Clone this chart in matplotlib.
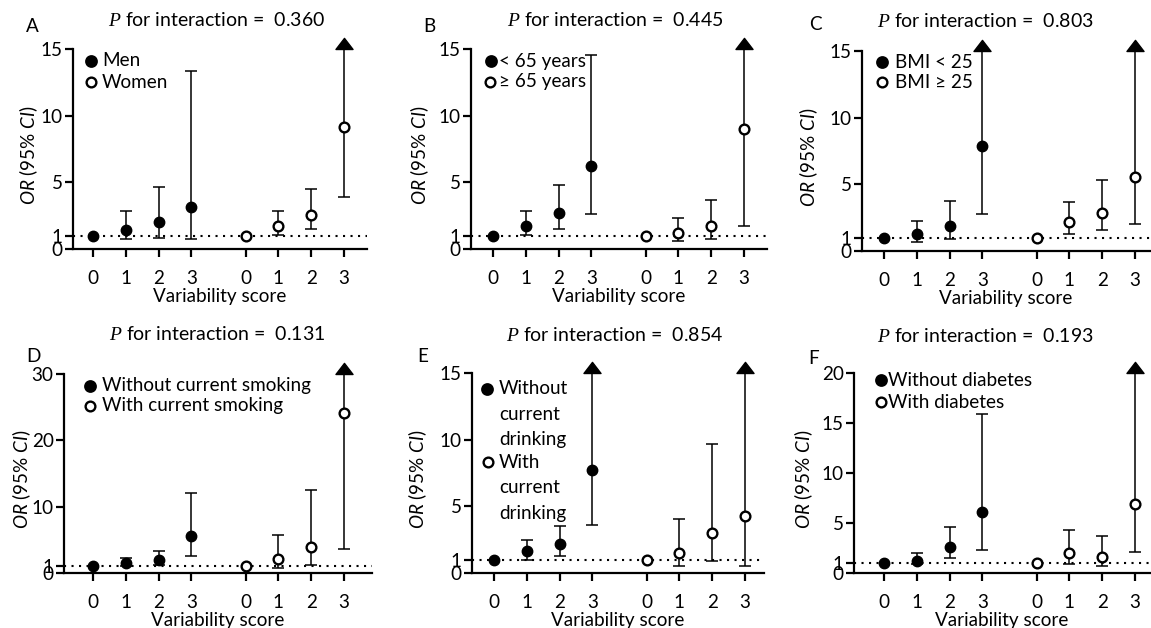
import numpy as np
import matplotlib
matplotlib.use('Agg')
import matplotlib.pyplot as plt
from matplotlib.lines import Line2D
from matplotlib.path import Path

plt.rcParams['font.family'] = ['Lato', 'DejaVu Sans']
plt.rcParams['mathtext.fontset'] = 'custom'
plt.rcParams['mathtext.rm'] = 'Lato'
plt.rcParams['mathtext.it'] = 'Lato:italic'
plt.rcParams['mathtext.sf'] = 'Liberation Serif:italic'

nan, inf = np.nan, np.inf  # inf = upper CI runs off the axis (arrow)

scores = [0, 1, 2, 3]
score_labels = ['0', '1', '2', '3', '0', '1', '2', '3']

# A: sex
men_or = [1.0, 1.45, 2.05, 3.13]
men_lo = [nan, 0.75, 0.85, 0.75]
men_hi = [nan, 2.85, 4.68, 13.35]
women_or = [1.0, 1.73, 2.58, 9.13]
women_lo = [nan, 1.05, 1.48, 3.9]
women_hi = [nan, 2.85, 4.53, inf]

# B: age
young_or = [1.0, 1.73, 2.7, 6.2]
young_lo = [nan, 1.05, 1.53, 2.63]
young_hi = [nan, 2.85, 4.83, 14.53]
old_or = [1.0, 1.2, 1.7, 9.0]
old_lo = [nan, 0.58, 0.78, 1.75]
old_hi = [nan, 2.3, 3.68, inf]

# C: BMI
lean_or = [1.0, 1.25, 1.85, 7.85]
lean_lo = [nan, 0.7, 0.9, 2.78]
lean_hi = [nan, 2.25, 3.78, inf]
heavy_or = [1.0, 2.18, 2.88, 5.58]
heavy_lo = [nan, 1.3, 1.55, 2.03]
heavy_hi = [nan, 3.68, 5.35, inf]

# D: smoking
nosmk_or = [1.0, 1.5, 2.0, 5.52]
nosmk_lo = [nan, 1.0, 1.15, 2.5]
nosmk_hi = [nan, 2.26, 3.3, 12.1]
smk_or = [1.0, 2.06, 3.86, 24.18]
smk_lo = [nan, 0.8, 1.15, 3.61]
smk_hi = [nan, 5.72, 12.44, inf]

# E: drinking
nodrk_or = [1.0, 1.63, 2.15, 7.73]
nodrk_lo = [nan, 1.0, 1.28, 3.6]
nodrk_hi = [nan, 2.48, 3.53, inf]
drk_or = [1.0, 1.5, 3.03, 4.28]
drk_lo = [nan, 0.55, 0.93, 0.5]
drk_hi = [nan, 4.03, 9.68, inf]

# F: diabetes
nodm_or = [1.0, 1.2, 2.65, 6.1]
nodm_lo = [nan, 0.9, 1.5, 2.3]
nodm_hi = [nan, 2.0, 4.65, 15.95]
dm_or = [1.0, 2.0, 1.6, 6.95]
dm_lo = [nan, 0.9, 0.7, 2.1]
dm_hi = [nan, 4.3, 3.7, inf]

p_values = ['0.360', '0.445', '0.803', '0.131', '0.854', '0.193']
panel_letters = ['A', 'B', 'C', 'D', 'E', 'F']
y_ticks = [[0, 1, 5, 10, 15], [0, 1, 5, 10, 15], [0, 1, 5, 10, 15],
           [0, 1, 10, 20, 30], [0, 1, 5, 10, 15], [0, 1, 5, 10, 15, 20]]
key_labels = [['Men', 'Women'],
              ['< 65 years', '\u2265 65 years'],
              ['BMI < 25', 'BMI \u2265 25'],
              ['Without current smoking', 'With current smoking'],
              ['Without\ncurrent\ndrinking', 'With\ncurrent\ndrinking'],
              ['Without diabetes', 'With diabetes']]
groups = [
    (men_or, men_lo, men_hi, women_or, women_lo, women_hi),
    (young_or, young_lo, young_hi, old_or, old_lo, old_hi),
    (lean_or, lean_lo, lean_hi, heavy_or, heavy_lo, heavy_hi),
    (nosmk_or, nosmk_lo, nosmk_hi, smk_or, smk_lo, smk_hi),
    (nodrk_or, nodrk_lo, nodrk_hi, drk_or, drk_lo, drk_hi),
    (nodm_or, nodm_lo, nodm_hi, dm_or, dm_lo, dm_hi),
]

W, H = 1151, 628
UNIT = 32.8      # px per score step
GAP = 4.65       # offset of second group
FS = 13.6
TITLE_FS = 14

# layout in pixels: axes box (left, top, right, bottom), first tick px,
# ylabel centre x, title centre, letter centre,
# legend keys (marker x, marker y, text x)
layout = [
    dict(box=(73, 49, 367, 249), x0=93, ylab=29, title=(217, 20),
         letter=(32, 27), keys=[(91, 61, 102), (91, 82, 102)]),
    dict(box=(471, 49, 767, 249), x0=493, ylab=420, title=(615, 20),
         letter=(429, 27), keys=[(491, 61, 499), (490, 82, 499)]),
    dict(box=(862, 51, 1150, 251), x0=884, ylab=809, title=(985, 21),
         letter=(815, 25), keys=[(882, 62, 895), (882, 82, 895)]),
    dict(box=(64, 374, 372, 573), x0=93, ylab=22, title=(217, 334),
         letter=(33, 356), keys=[(90, 386, 102), (90, 406, 102)]),
    dict(box=(472, 373, 764, 573), x0=494, ylab=418, title=(615, 335),
         letter=(423, 357), keys=[(487, 389, 499), (488, 462, 499)]),
    dict(box=(854, 373, 1150, 573), x0=884, ylab=804, title=(985, 336),
         letter=(814, 358), keys=[(881, 380, 888), (881, 402, 888)]),
]

# wide flat triangle with its base at the marker origin
arrow_marker = Path([(-1, 0), (1, 0), (0, 1.3), (-1, 0)],
                    [Path.MOVETO, Path.LINETO, Path.LINETO, Path.CLOSEPOLY])


def draw_group(ax, xs, orv, lo, hi, filled, ytop):
    for x, l, h in zip(xs, lo, hi):
        if np.isnan(l):
            continue
        up = min(h, ytop)
        ax.vlines(x, l, up, color='k', lw=1.1, zorder=2)
        ax.plot(x, l, marker='_', ms=9, mew=1.1, color='k', zorder=2)
        if np.isinf(h):
            ax.plot(x, ytop, marker=arrow_marker, ms=16, color='k',
                    clip_on=False, zorder=4)
        else:
            ax.plot(x, h, marker='_', ms=9, mew=1.1, color='k', zorder=2)
    if filled:
        ax.plot(xs, orv, 'o', ms=7.5, color='k', ls='none', zorder=3)
    else:
        ax.plot(xs, orv, 'o', ms=7, mfc='white', mec='k', mew=1.7,
                ls='none', zorder=3)


def px(x, y):
    return x / W, 1 - y / H


fig = plt.figure(figsize=(W / 100, H / 100), dpi=100)

for i, lay in enumerate(layout):
    l, t, r, b = lay['box']
    ax = fig.add_axes([l / W, 1 - b / H, (r - l) / W, (b - t) / H])
    ytop = y_ticks[i][-1]
    ax.set_xlim((l - lay['x0']) / UNIT, (r - lay['x0']) / UNIT)
    ax.set_ylim(0, ytop)

    g1 = [float(s) for s in scores]
    g2 = [s + GAP for s in scores]
    o1, l1, h1, o2, l2, h2 = groups[i]
    ax.axhline(1, color='k', lw=1.5, ls=(0, (1, 2.6)), zorder=1)
    draw_group(ax, g1, o1, l1, h1, True, ytop)
    draw_group(ax, g2, o2, l2, h2, False, ytop)

    ax.set_xticks(g1 + g2)
    ax.set_xticklabels(score_labels)
    ax.set_yticks(y_ticks[i])
    for side in ['top', 'right']:
        ax.spines[side].set_visible(False)
    for side in ['left', 'bottom']:
        ax.spines[side].set_linewidth(1.6)
    ax.tick_params(direction='out', length=6, width=1.6, labelsize=FS)
    ax.tick_params(axis='y', pad=1.5)
    ax.tick_params(axis='x', pad=9)
    ax.set_xlabel('Variability score', fontsize=FS, labelpad=1)
    ax.set_ylabel(r'$\mathit{OR}$ (95% $\mathit{CI}$)', fontsize=FS,
                  va='center')
    ax.yaxis.set_label_coords((lay['ylab'] - l) / (r - l), 0.47)

    tx, ty = lay['title']
    fig.text(*px(tx, ty), r'$\mathsf{P}$ for interaction =  ' + p_values[i],
             ha='center', va='center', fontsize=TITLE_FS)
    lx, ly = lay['letter']
    fig.text(*px(lx, ly), panel_letters[i], ha='center', va='center',
             fontsize=FS)

    for (mx, my, txx), lab, filled in zip(lay['keys'], key_labels[i],
                                           [True, False]):
        fc = 'k' if filled else 'white'
        fig.add_artist(Line2D([mx / W], [1 - my / H], transform=fig.transFigure,
                              marker='o', ms=7.5 if filled else 7, mfc=fc,
                              mec='k', mew=1.7, ls='none'))
        for j, line in enumerate(lab.split('\n')):
            fig.text(*px(txx, my + j * 25.5), line, ha='left', va='center',
                     fontsize=FS)

fig.savefig('out.png', dpi=100)
